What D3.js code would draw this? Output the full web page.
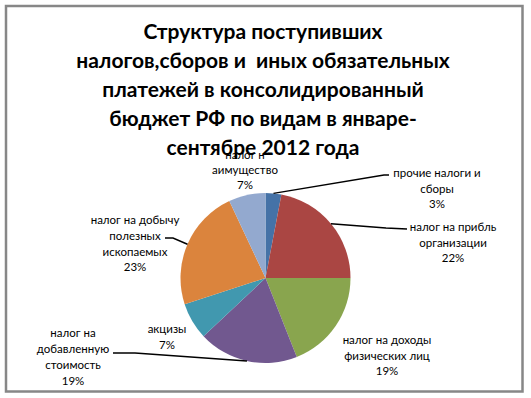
<!DOCTYPE html>
<html><head><meta charset="utf-8">
<script src="https://cdn.jsdelivr.net/npm/d3@7"></script>
<style>
html,body{margin:0;padding:0;background:#fff;}
svg{display:block;}
text{white-space:pre;}
</style></head>
<body>
<svg id="chart" width="531" height="398"></svg>
<script>
// ---- data ----
const titleLines = [
  "Структура поступивших",
  "налогов,сборов и  иных обязательных",
  "платежей в консолидированный",
  "бюджет РФ по видам в январе-",
  "сентябре 2012 года"
];
const categories = [
  "прочие налоги и сборы",
  "налог на прибль организации",
  "налог на доходы физических лиц",
  "налог на добавленную стоимость",
  "акцизы",
  "налог на добычу полезных ископаемых",
  "налог н аимущество"
];
const values = [3, 22, 19, 19, 7, 23, 7];
const labelLines = [
  ["прочие налоги и", "сборы"],
  ["налог на прибль", "организации"],
  ["налог на доходы", "физических лиц"],
  ["налог на", "добавленную", "стоимость"],
  ["акцизы"],
  ["налог на добычу", "полезных", "ископаемых"],
  ["налог н", "аимущество"]
];
const colors = ["#4572A7", "#AA4643", "#89A54E", "#71588F", "#4198AF", "#DB843D", "#93A9CF"];

// ---- layout (not data) ----
const cx = 265.5, cy = 278, R = 85;
const labelLayout = [
  {x: 437, y: 173, lh: 15.5, leader: [[389, 175], [384, 175]]},
  {x: 453, y: 227, lh: 15.5, leader: [[407, 229], [386, 228]]},
  {x: 387, y: 340, lh: 15.5, leader: null},
  {x: 73,  y: 333, lh: 16,   leader: [[113, 353], [135, 353]]},
  {x: 167, y: 329, lh: 16,   leader: null},
  {x: 135, y: 220, lh: 15.8, leader: [[165, 238], [173, 238]]},
  {x: 245, y: 155, lh: 15,   leader: null}
];

const svg = d3.select("#chart");
svg.append("rect").attr("x", 0).attr("y", 0).attr("width", 531).attr("height", 398).attr("fill", "#fff");
svg.append("rect").attr("x", 6).attr("y", 6).attr("width", 516.5).attr("height", 385.5)
  .attr("fill", "#fff").attr("stroke", "#878787").attr("stroke-width", 2.5);

const pie = d3.pie().sort(null).value(d => d)(values);
const arc = d3.arc().innerRadius(0).outerRadius(R);
const g = svg.append("g").attr("transform", `translate(${cx},${cy})`);
g.selectAll("path").data(pie).join("path")
  .attr("d", arc).attr("fill", (d, i) => colors[i]);

// leader lines
const edge = d => {
  const a = (d.startAngle + d.endAngle) / 2;
  return [cx + R * Math.sin(a), cy - R * Math.cos(a)];
};
const line = d3.line();
pie.forEach((d, i) => {
  const L = labelLayout[i];
  if (!L.leader) return;
  const pts = L.leader.concat([edge(d)]);
  svg.append("path").attr("d", line(pts)).attr("fill", "none")
    .attr("stroke", "#000").attr("stroke-width", 1.5);
});

// labels
const font = "Lato, 'Open Sans', sans-serif";
pie.forEach((d, i) => {
  const L = labelLayout[i];
  const lines = labelLines[i].concat([Math.round(values[i]) + "%"]);
  const t = svg.append("text").attr("text-anchor", "middle")
    .attr("font-family", font).attr("font-size", 11.5).attr("fill", "#000");
  lines.forEach((s, k) => {
    t.append("tspan").attr("x", L.x).attr("y", L.y + k * L.lh).attr("dy", "0.35em").text(s);
  });
});

// title
const tt = svg.append("text").attr("text-anchor", "middle")
  .attr("font-family", font).attr("font-weight", "bold").attr("font-size", 21).attr("fill", "#000");
titleLines.forEach((s, k) => {
  tt.append("tspan").attr("x", 263).attr("y", 32 + k * 29).attr("dy", "0.35em").text(s);
});
</script>
</body></html>
